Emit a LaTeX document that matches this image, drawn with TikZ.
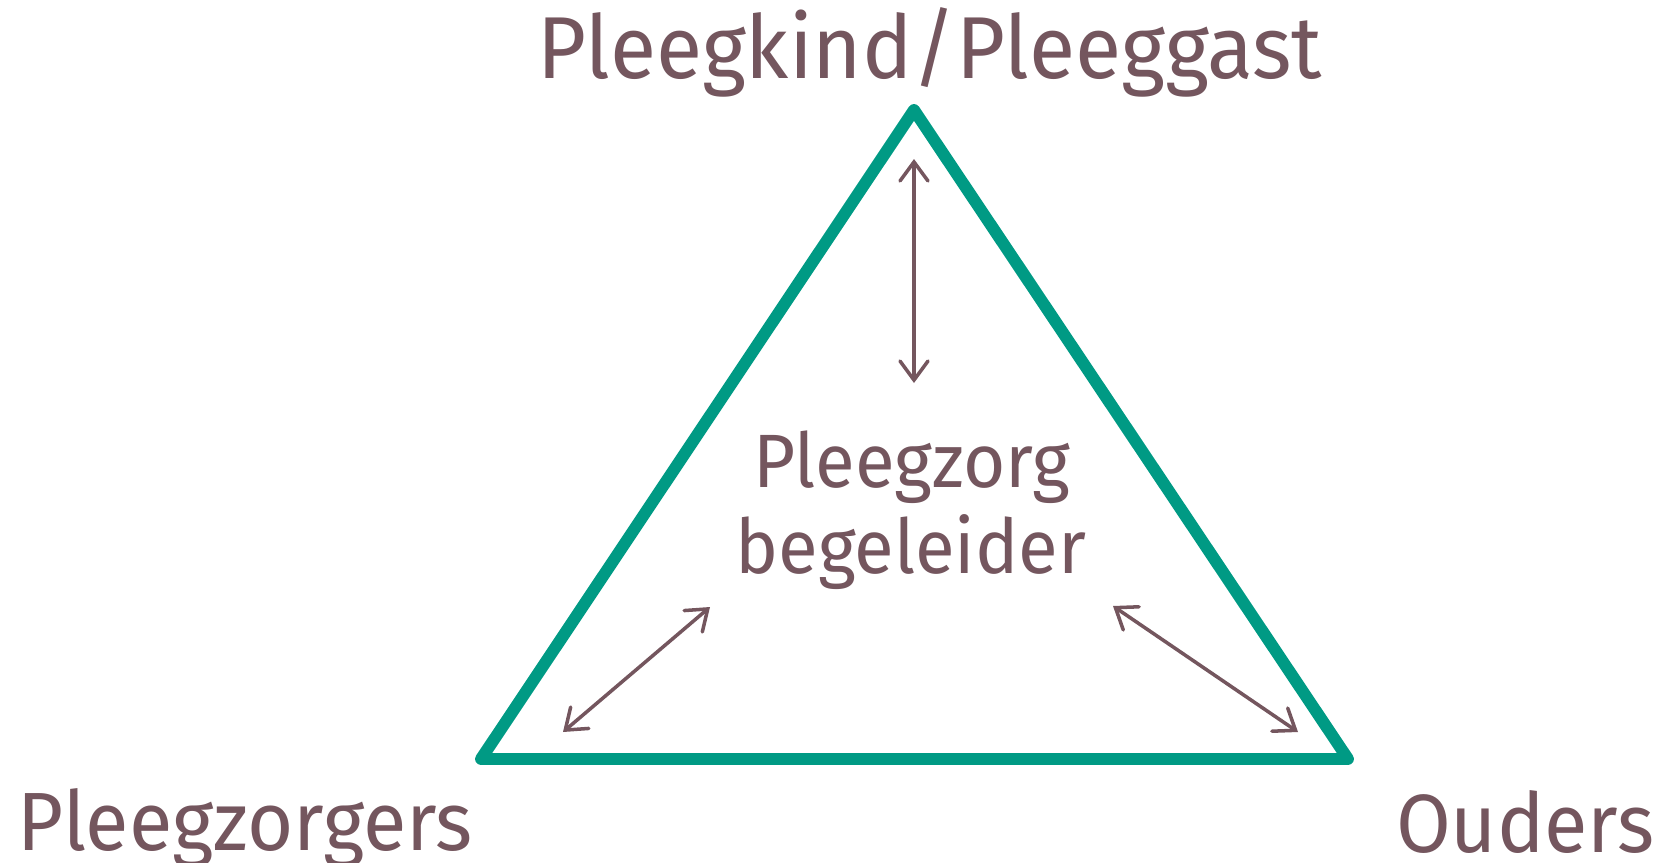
\documentclass[tikz,border=0pt]{standalone}
\usepackage{fontspec}
\setmainfont{Fira Sans}[FakeStretch=0.96]
\usetikzlibrary{positioning, arrows.meta}

\begin{document}
\begin{tikzpicture}[x=0.01cm, y=-0.01cm,
    label/.style={inner sep=0pt, text=textC, font=\fontsize{23.5}{28}\selectfont},
    link/.style={draw=textC, line width=1pt,
                 {Straight Barb[length=0.19cm, width=0.28cm, line cap=round]}-{Straight Barb[length=0.19cm, width=0.28cm, line cap=round]}},
    frame/.style={draw=frameC, line width=3.4pt, line join=round, line cap=round},
]

% Color definitions
\definecolor{textC}{RGB}{116,86,94}
\definecolor{frameC}{RGB}{0,154,132}

\useasboundingbox (0,0) rectangle (1659,863);

% Triangle corners
\coordinate (top) at (914,110);
\coordinate (left) at (481,759);
\coordinate (right) at (1348,759);
\draw[frame] (top) -- (left) -- (right) -- cycle;

% Labels
\node[label, anchor=base, font=\fontsize{25}{30}\selectfont] (kind) at (930,78) {Pleegkind/Pleeggast};
\node[label, anchor=base west] (zorgers) at (17,850) {Pleegzorgers};
\node[label, anchor=base east] (ouders) at (1655,852) {Ouders};
\node[label, anchor=base, font=\fontsize{21.5}{24.4}\selectfont] (zorg) at (912,487) {Pleegzorg};
\node[label, anchor=base, font=\fontsize{21.5}{24.4}\selectfont] (begel) at (911,573) {begeleider};

% Arrow ends
\coordinate (kindA) at (914,159);
\coordinate (kindB) at (914,383);
\coordinate (zorgA) at (563,732);
\coordinate (zorgB) at (710,607);
\coordinate (oudA) at (1298,732);
\coordinate (oudB) at (1113,606);

\draw[link] (kindA) -- (kindB);
\draw[link] (zorgA) -- (zorgB);
\draw[link] (oudA) -- (oudB);

\end{tikzpicture}
\end{document}
